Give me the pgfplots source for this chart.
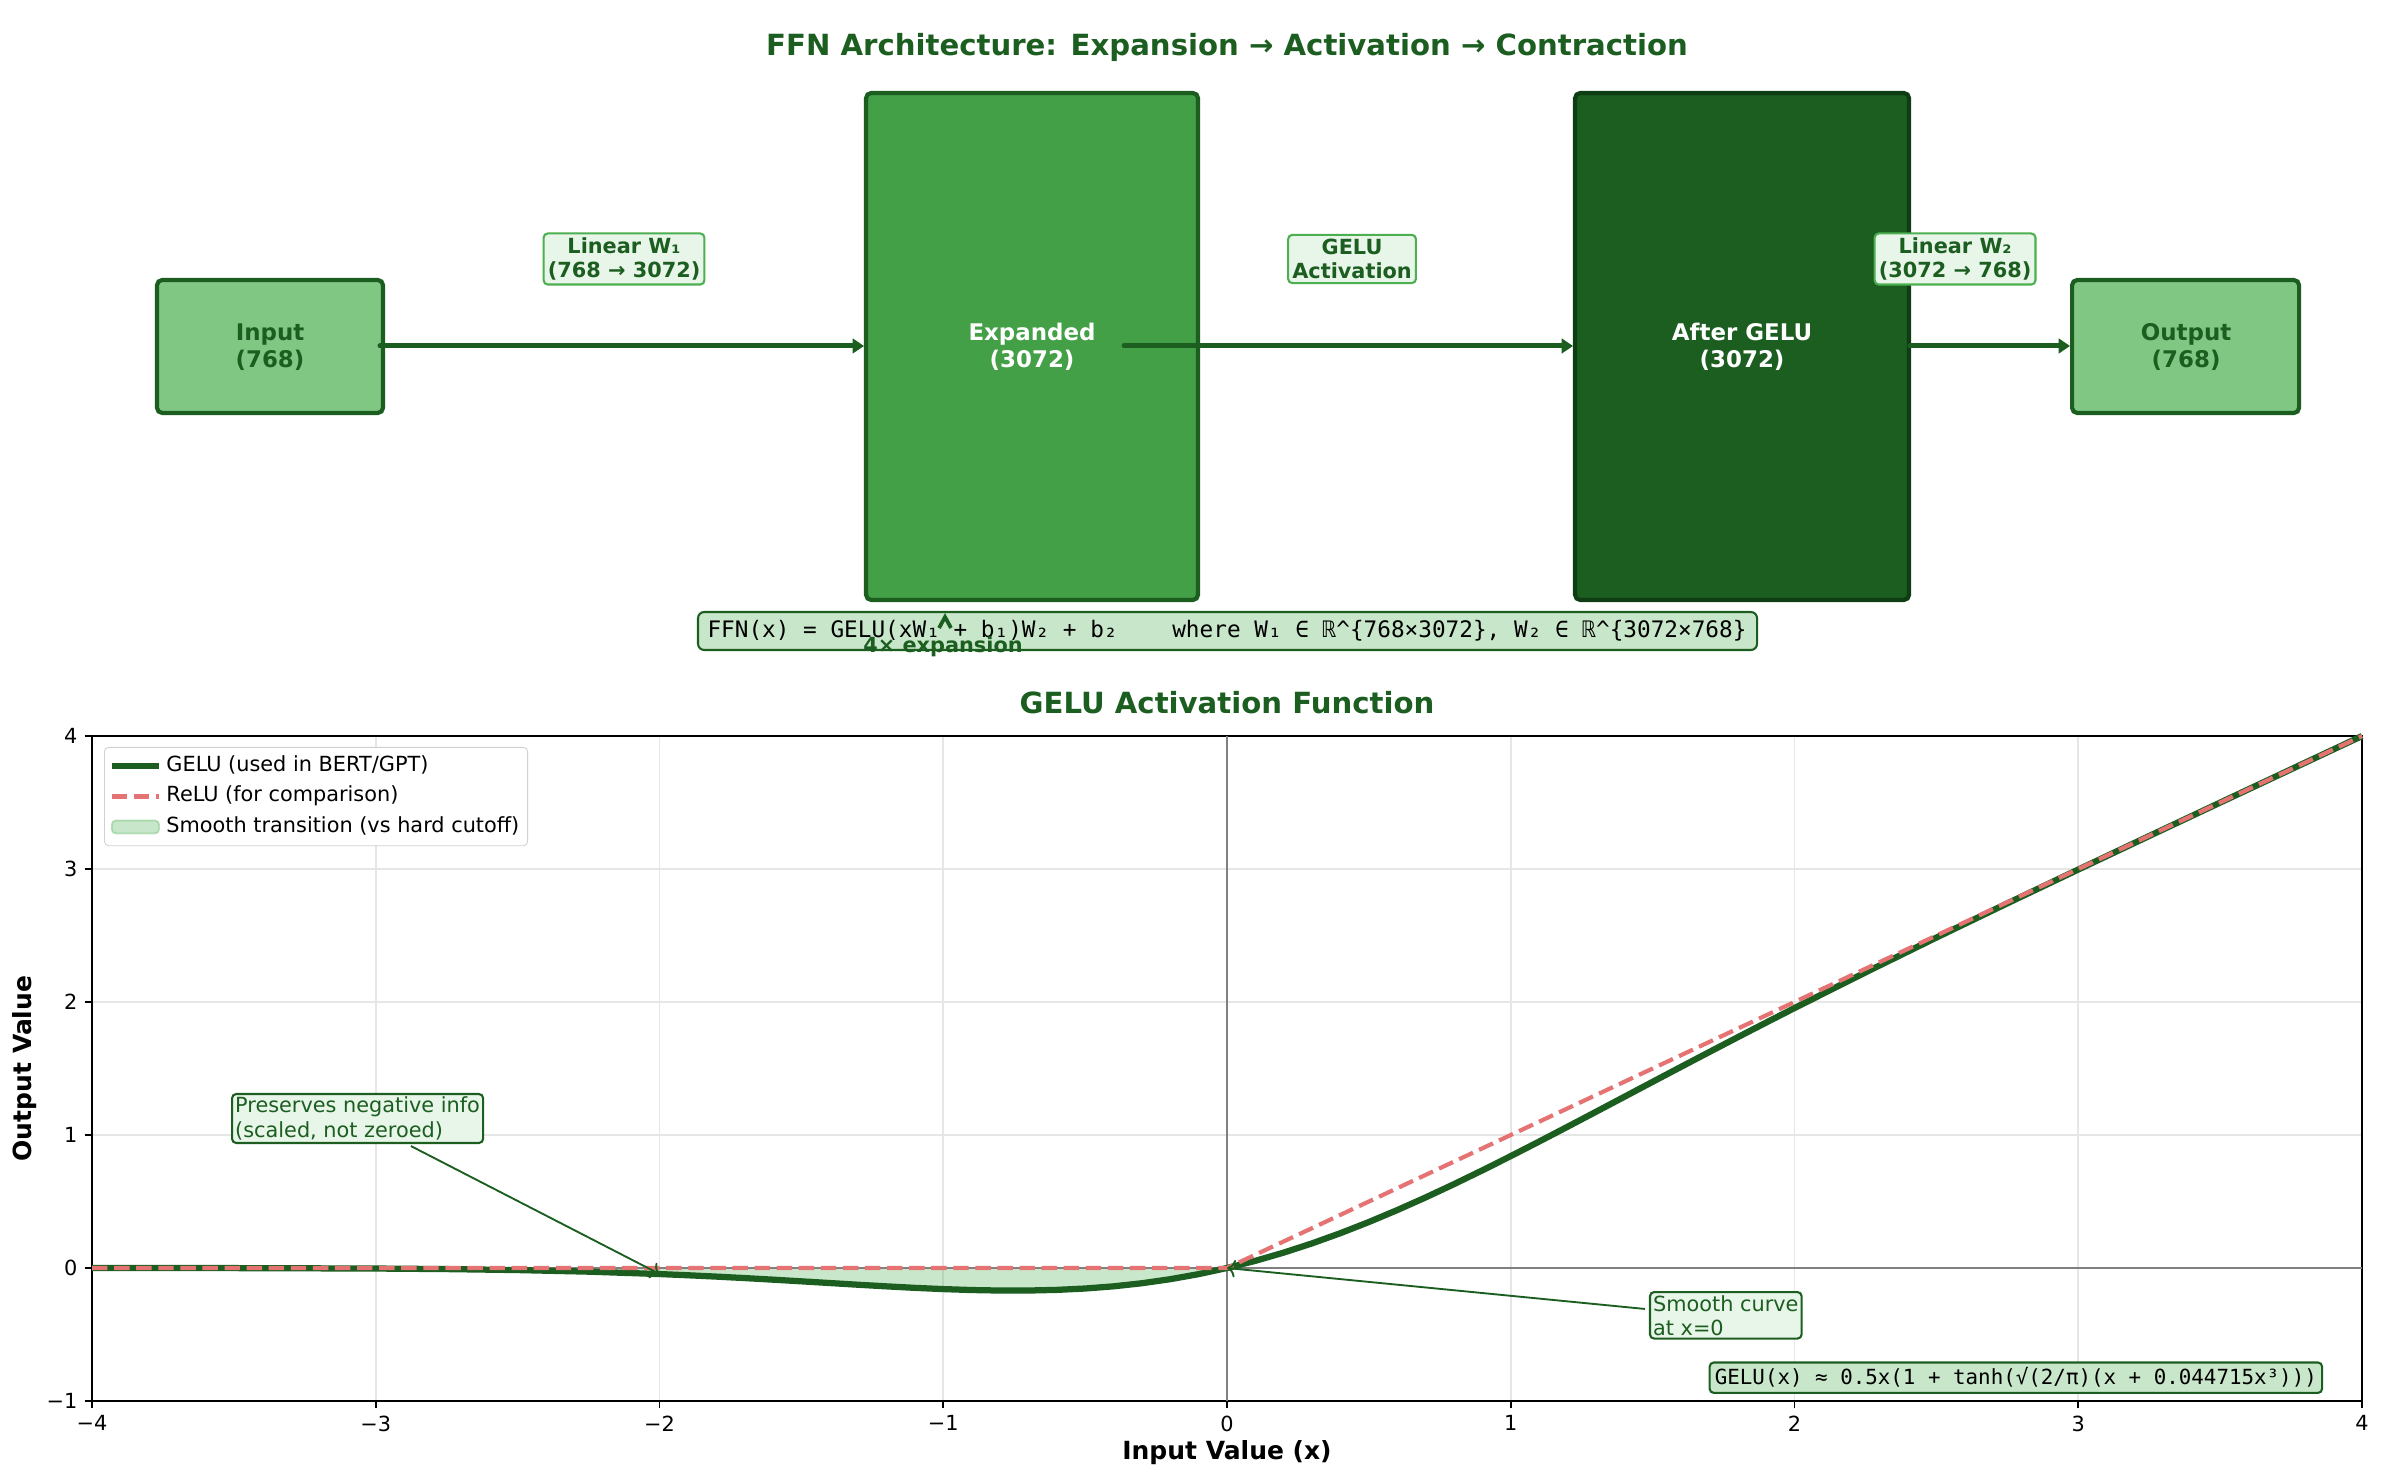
\documentclass[border=0pt]{standalone}
\usepackage{pgfplots}
\pgfplotsset{compat=1.18}
\usepackage{pgfplotstable}
\usepackage{fontspec}
\setmainfont{DejaVu Sans}
\setmonofont{DejaVu Sans Mono}
\usetikzlibrary{arrows.meta}

\definecolor{dkgreen}{HTML}{1B5E20}
\definecolor{mdgreen}{HTML}{43A047}
\definecolor{ltgreen}{HTML}{81C784}
\definecolor{plgreen}{HTML}{C8E6C9}
\definecolor{vpgreen}{HTML}{E8F5E9}
\definecolor{edgegreen}{HTML}{4CAF50}
\definecolor{vdkgreen}{HTML}{0F3D13}
\definecolor{relured}{HTML}{E57373}
\definecolor{gridgray}{HTML}{E6E6E6}

\pgfplotsset{
  linelegend/.style={legend image code/.code={\draw[##1] (0cm,0cm) -- (0.8cm,0cm);}},
  arealegend/.style={legend image code/.code={\draw[fill=edgegreen, fill opacity=0.3, draw=edgegreen, draw opacity=0.35, line width=0.8pt] (0cm,-0.11cm) rectangle (0.8cm,0.11cm);}},
}

\pgfplotstableread{
x y
-4.0 -0.00013
-3.5 -0.00081
-3.0 -0.00405
-2.75 -0.00820
-2.5 -0.01552
-2.25 -0.02750
-2.0 -0.04550
-1.9 -0.05457
-1.8 -0.06467
-1.7 -0.07577
-1.6 -0.08768
-1.5 -0.10021
-1.4 -0.11306
-1.3 -0.12584
-1.2 -0.13808
-1.1 -0.14924
-1.0 -0.15866
-0.9 -0.16565
-0.8 -0.16949
-0.75 -0.16997
-0.7 -0.16937
-0.6 -0.16455
-0.5 -0.15427
-0.4 -0.13783
-0.3 -0.11463
-0.2 -0.08415
-0.1 -0.04602
0.0 0.0
0.1 0.05398
0.2 0.11585
0.3 0.18537
0.4 0.26217
0.5 0.34573
0.6 0.43545
0.7 0.53063
0.8 0.63051
0.9 0.73435
1.0 0.84134
1.1 0.95076
1.2 1.06192
1.3 1.17416
1.4 1.28694
1.5 1.39979
1.6 1.51232
1.7 1.62423
1.8 1.73533
1.9 1.84543
2.0 1.95450
2.25 2.22251
2.5 2.48448
2.75 2.74181
3.0 2.99595
3.25 3.24812
3.5 3.49920
3.75 3.74967
4.0 3.99987
}\gelu

\pgfplotstableread{
x y
-4.0 -0.00013
-3.5 -0.00081
-3.0 -0.00405
-2.75 -0.00820
-2.5 -0.01552
-2.25 -0.02750
-2.0 -0.04550
-1.9 -0.05457
-1.8 -0.06467
-1.7 -0.07577
-1.6 -0.08768
-1.5 -0.10021
-1.4 -0.11306
-1.3 -0.12584
-1.2 -0.13808
-1.1 -0.14924
-1.0 -0.15866
-0.9 -0.16565
-0.8 -0.16949
-0.75 -0.16997
-0.7 -0.16937
-0.6 -0.16455
-0.5 -0.15427
-0.4 -0.13783
-0.3 -0.11463
-0.2 -0.08415
-0.1 -0.04602
0.0 0.0
-4.0 0.0
}\smoothfill

\pgfplotstableread{
x y
-4 0
0 0
4 4
}\relu

\newcommand{\fs}[2]{\fontsize{#1}{#2}\selectfont}

\begin{document}
\begin{tikzpicture}
\path[use as bounding box] (0,0) rectangle (1144.32pt,711.84pt);

% ---------------- top diagram (pixel canvas) ----------------
\begin{axis}[
  hide axis, scale only axis, width=1144.32pt, height=711.84pt,
  xmin=0, xmax=2384, ymin=0, ymax=1483, y dir=reverse,
  clip=false, at={(0pt,0pt)}, anchor=south west]

\node[font=\bfseries\fs{14}{16}, text=dkgreen] at (axis cs:1227,47)
  {FFN Architecture: Expansion → Activation → Contraction};

% boxes
\draw[line width=2pt, draw=dkgreen, fill=ltgreen, rounded corners=2.5pt]
  (axis cs:157,280) rectangle (axis cs:383,413);
\draw[line width=2pt, draw=dkgreen, fill=mdgreen, rounded corners=2.5pt]
  (axis cs:866,93) rectangle (axis cs:1198,600);
\draw[line width=2pt, draw=vdkgreen, fill=dkgreen, rounded corners=2.5pt]
  (axis cs:1575,93) rectangle (axis cs:1909,600);
\draw[line width=2pt, draw=dkgreen, fill=ltgreen, rounded corners=2.5pt]
  (axis cs:2072,280) rectangle (axis cs:2299,413);

\node[font=\bfseries\fs{11}{12.8}, text=dkgreen, align=center] at (axis cs:270,347) {Input\\(768)};
\node[font=\bfseries\fs{11}{12.8}, text=white, align=center] at (axis cs:1032,347) {Expanded\\(3072)};
\node[font=\bfseries\fs{11}{12.8}, text=white, align=center] at (axis cs:1742,347) {After GELU\\(3072)};
\node[font=\bfseries\fs{11}{12.8}, text=dkgreen, align=center] at (axis cs:2186,347) {Output\\(768)};

% arrows
\draw[line width=2.4pt, dkgreen, line cap=round, -{Triangle[length=5.5pt,width=7pt]}] (axis cs:380,346) -- (axis cs:864,346);
\draw[line width=2.4pt, dkgreen, line cap=round, -{Triangle[length=5.5pt,width=7pt]}] (axis cs:1124,346) -- (axis cs:1573,346);
\draw[line width=2.4pt, dkgreen, line cap=round, -{Triangle[length=5.5pt,width=7pt]}] (axis cs:1910,346) -- (axis cs:2070,346);

% arrow labels
\node[font=\bfseries\fs{10}{11.6}, text=dkgreen, align=center, fill=vpgreen, draw=edgegreen,
  line width=1pt, rounded corners=2pt, inner sep=2pt] at (axis cs:624,259) {Linear W₁\\(768 → 3072)};
\node[font=\bfseries\fs{10}{11.6}, text=dkgreen, align=center, fill=vpgreen, draw=edgegreen,
  line width=1pt, rounded corners=2pt, inner sep=2pt] at (axis cs:1352,259) {GELU\\Activation};
\node[font=\bfseries\fs{10}{11.6}, text=dkgreen, align=center, fill=vpgreen, draw=edgegreen,
  line width=1pt, rounded corners=2pt, inner sep=2pt] at (axis cs:1955,259) {Linear W₂\\(3072 → 768)};

% formula box
\draw[line width=1pt, draw=dkgreen, fill=plgreen, rounded corners=3pt]
  (axis cs:698,612) rectangle (axis cs:1757,650);
\node[font=\ttfamily\fs{10.9}{12}, text=black] at (axis cs:1227,631)
  {FFN(x) = GELU(xW₁ + b₁)W₂ + b₂\ \ \ \ where W₁ ∈ ℝ\^{}\{768×3072\}, W₂ ∈ ℝ\^{}\{3072×768\}};
\draw[line width=1.8pt, dkgreen] (axis cs:939,628) -- (axis cs:945,617) -- (axis cs:951,628);
\node[font=\bfseries\fs{10}{12}, text=dkgreen] at (axis cs:943,647) {4× expansion};
\end{axis}

% ---------------- bottom plot ----------------
\begin{axis}[
  scale only axis, width=1089.6pt, height=319.2pt,
  at={(44.16pt,39.36pt)}, anchor=south west,
  xmin=-4, xmax=4, ymin=-1, ymax=4,
  xtick={-4,-3,-2,-1,0,1,2,3,4},
  xticklabels={−4,−3,−2,−1,0,1,2,3,4},
  ytick={-1,0,1,2,3,4},
  yticklabels={−1,0,1,2,3,4},
  xtick pos=bottom, ytick pos=left,
  tick align=outside, major tick length=3.5pt,
  every tick/.style={black, line width=0.8pt},
  tick label style={font=\fs{10}{12}},
  axis line style={line width=0.8pt},
  grid=major, grid style={gridgray, line width=0.8pt},
  xlabel={Input Value (x)}, ylabel={Output Value},
  xlabel style={font=\bfseries\fs{12}{14}, at={(axis description cs:0.5,-0.0782)}, anchor=center},
  ylabel style={font=\bfseries\fs{12}{14}, at={(axis description cs:-0.0299,0.5)}, anchor=center},
  title={GELU Activation Function},
  title style={font=\bfseries\fs{14}{16}, text=dkgreen, at={(axis description cs:0.5,1.0316)}, anchor=center},
  clip=false,
  legend style={at={(0.0053,0.9835)}, anchor=north west, draw=black!18, rounded corners=2pt,
    fill=white, font=\fs{10}{12}, inner sep=2pt, row sep=0.6pt,
    nodes={inner sep=2pt, text height=7.6pt, text depth=2.4pt}},
  legend cell align=left,
]
\addplot[draw=none, fill=edgegreen, fill opacity=0.3, forget plot] table[x=x,y=y] {\smoothfill} -- cycle;
\addplot[black!50, line width=0.8pt, forget plot] coordinates {(-4,0) (4,0)};
\addplot[black!50, line width=0.8pt, forget plot] coordinates {(0,-1) (0,4)};
\addplot[dkgreen, line width=3pt, linelegend] table[x=x,y=y] {\gelu};
\addlegendentry{GELU (used in BERT/GPT)}
\addplot[relured, line width=2pt, dash pattern=on 7.4pt off 3.2pt, linelegend] table[x=x,y=y] {\relu};
\addlegendentry{ReLU (for comparison)}
\addlegendimage{arealegend}
\addlegendentry{Smooth transition (vs hard cutoff)}

% annotations
\node[anchor=north west, font=\fs{10}{11.6}, text=dkgreen, align=left, fill=vpgreen, draw=dkgreen,
  line width=1pt, rounded corners=2pt, inner sep=1.5pt] at (axis cs:-3.51,1.316)
  {Preserves negative info\\(scaled, not zeroed)};
\draw[dkgreen, line width=0.9pt, -{To[length=4pt]}] (axis cs:-2.876,0.917) -- (axis cs:-2.0,-0.045);
\node[anchor=north west, font=\fs{10}{11.6}, text=dkgreen, align=left, fill=vpgreen, draw=dkgreen,
  line width=1pt, rounded corners=2pt, inner sep=1.5pt] at (axis cs:1.487,-0.173)
  {Smooth curve\\at x=0};
\draw[dkgreen, line width=0.9pt, -{To[length=4pt]}] (axis cs:1.473,-0.308) -- (axis cs:0.0,0.0);
\node[anchor=south east, font=\ttfamily\fs{10}{12}, text=black, fill=plgreen, draw=dkgreen,
  line width=1pt, rounded corners=2pt, inner sep=2.5pt] at (axis cs:3.863,-0.947)
  {GELU(x) ≈ 0.5x(1 + tanh(√(2/π)(x + 0.044715x³)))};
\end{axis}
\end{tikzpicture}
\end{document}
